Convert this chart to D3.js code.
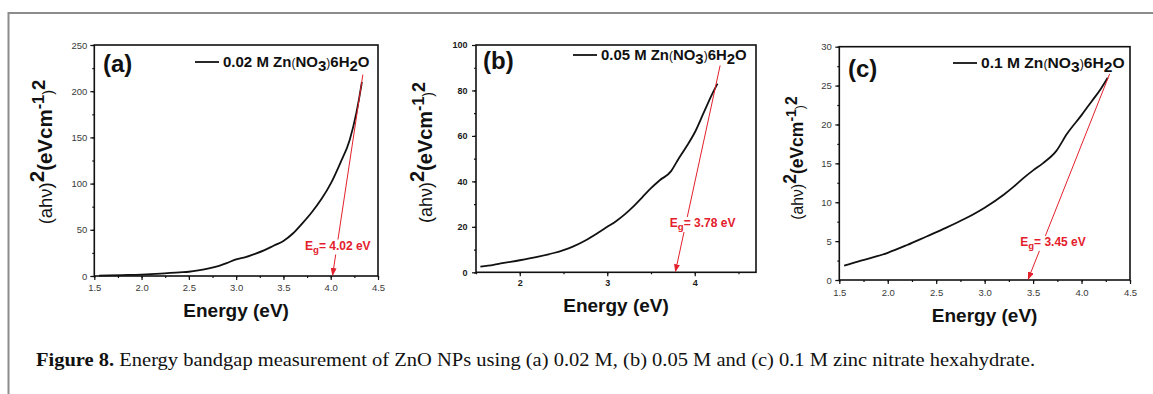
<!DOCTYPE html>
<html>
<head>
<meta charset="utf-8">
<script src="https://cdn.jsdelivr.net/npm/d3@7/dist/d3.min.js"></script>
<style>
  body { margin: 0; background: #fff; }
  svg { display: block; font-family: "Liberation Sans", Arial, sans-serif; }
</style>
</head>
<body>
<div id="chart"></div>
<script>
var width = 1153;
var height = 394;

// (a) 0.02 M
var energyA = [1.55, 1.8, 2.0, 2.2, 2.4, 2.5, 2.6, 2.7, 2.8, 2.9, 3.0, 3.1, 3.2, 3.3, 3.4, 3.5, 3.6, 3.7, 3.8, 3.9, 4.0, 4.1, 4.2, 4.27, 4.3, 4.33];
var absA    = [0.5, 1, 1.5, 2.5, 4, 4.6, 6, 8, 10.5, 14, 18, 20.5, 24, 28, 33, 38, 46, 57, 69, 83, 100, 122, 147, 176, 192, 210];
var xTicksA = [1.5, 2.0, 2.5, 3.0, 3.5, 4.0, 4.5];
var yTicksA = [0, 50, 100, 150, 200, 250];

// (b) 0.05 M
var energyB = [1.55, 1.7, 1.8, 2.0, 2.2, 2.4, 2.5, 2.6, 2.75, 2.9, 3.0, 3.1, 3.2, 3.3, 3.4, 3.5, 3.6, 3.73, 3.8, 3.9, 4.0, 4.1, 4.2, 4.26];
var absB    = [2.5, 3.3, 4, 5.3, 6.8, 8.6, 9.8, 11.2, 14, 17.5, 20, 22.5, 25.5, 29, 33, 37, 40.5, 44.5, 49, 55, 61.5, 70, 78.5, 83];
var xTicksB = [2, 3, 4];
var yTicksB = [0, 20, 40, 60, 80, 100];

// (c) 0.1 M
var energyC = [1.55, 1.7, 1.82, 2.0, 2.2, 2.4, 2.6, 2.8, 3.0, 3.2, 3.3, 3.4, 3.5, 3.6, 3.74, 3.85, 4.0, 4.1, 4.2, 4.27];
var absC    = [1.85, 2.4, 2.8, 3.5, 4.5, 5.6, 6.7, 7.9, 9.3, 11.0, 12.0, 13.1, 14.1, 15.0, 16.6, 18.8, 21.2, 22.9, 24.6, 26];
var xTicksC = [1.5, 2.0, 2.5, 3.0, 3.5, 4.0, 4.5];
var yTicksC = [0, 5, 10, 15, 20, 25, 30];

// tangent fits: [top energy, top value, band gap]
var fitA = [4.34, 218, 4.02];
var fitB = [4.29, 91, 3.78];
var fitC = [4.29, 26.5, 3.45];

var labels = ["(a)", "(b)", "(c)"];
var legendNames = ["0.02", "0.05", "0.1"];
var gaps = ["4.02", "3.78", "3.45"];

var caption = "Energy bandgap measurement of ZnO NPs using (a) 0.02 M, (b) 0.05 M and (c) 0.1 M zinc nitrate hexahydrate.";

var red = "#e3202b";

var svg = d3.select("#chart").append("svg")
  .attr("width", width)
  .attr("height", height);

svg.append("rect").attr("width", width).attr("height", height).attr("fill", "#fff");

// page frame (top + left rule)
svg.append("path")
  .attr("d", "M8.5," + height + "V13H" + width)
  .attr("fill", "none")
  .attr("stroke", "#8c8c8c")
  .attr("stroke-width", 2);

svg.append("defs").append("marker")
  .attr("id", "arrow")
  .attr("markerUnits", "userSpaceOnUse")
  .attr("markerWidth", 8).attr("markerHeight", 6)
  .attr("refX", 7).attr("refY", 3)
  .attr("orient", "auto")
  .append("path")
  .attr("d", "M0,0L8,3L0,6z")
  .attr("fill", red);

var panels = [
  {
    energy: energyA, abs: absA, fit: fitA,
    xDomain: [1.5, 4.5], yMax: 250,
    xTicks: xTicksA, yTicks: yTicksA, xMinorStep: 0.25, yMinorStep: 25,
    xFmt: d3.format(".1f"), bold: false,
    left: 94.3, right: 378, top: 45, bottom: 276,
    xPad: 4.5, yPad: 3, tickFont: 9.5,
    ylab: [52, 152, 20.5], xlabY: 317, tag: [103, 72],
    legend: [195, 62, 147], labelAt: [4.075, 33]
  },
  {
    energy: energyB, abs: absB, fit: fitB,
    xDomain: [1.5, 4.7], yMax: 100,
    xTicks: xTicksB, yTicks: yTicksB, xMinorStep: 0.5, yMinorStep: 10,
    xFmt: d3.format("d"), bold: true,
    left: 476, right: 756, top: 45, bottom: 272.3,
    xPad: 3, yPad: 4.5, tickFont: 9,
    ylab: [432, 152.5, 20], xlabY: 311.5, tag: [483, 68.5],
    legend: [573, 55, 146], labelAt: [4.09, 21.7]
  },
  {
    energy: energyC, abs: absC, fit: fitC,
    xDomain: [1.5, 4.5], yMax: 30,
    xTicks: xTicksC, yTicks: yTicksC, xMinorStep: 0.25, yMinorStep: 2.5,
    xFmt: d3.format(".1f"), bold: false,
    left: 839.3, right: 1130, top: 46.7, bottom: 280,
    xPad: 5.5, yPad: 3.5, tickFont: 9.5,
    ylab: [803, 158, 17.5], xlabY: 322, tag: [848, 77],
    legend: [953, 63, 144], labelAt: [3.705, 4.9]
  }
];

// builds tspans from segments: [text, size(em), weight, shift(em, + is down)]
function richText(sel, segs, size) {
  var prev = 0;
  segs.forEach(function(s) {
    var fs = size * s[1];
    sel.append("tspan")
      .attr("font-size", fs)
      .attr("font-weight", s[2])
      .attr("dy", (s[3] - prev) * size)
      .text(s[0]);
    prev = s[3];
  });
}

// stretch a text horizontally so it covers the given width
function fitWidth(t, x, y, w) {
  var bw = t.node().getBBox().width;
  t.attr("transform", "translate(" + x + "," + y + ") scale(" + (w / bw) + ",1)");
}

function minorTicks(domain, step) {
  var out = [];
  for (var v = domain[0]; v <= domain[1] + 1e-9; v += step) out.push(+v.toFixed(4));
  return out;
}

panels.forEach(function(p, i) {
  var g = svg.append("g");

  var x = d3.scaleLinear().domain(p.xDomain).range([p.left, p.right]);
  var y = d3.scaleLinear().domain([0, p.yMax]).range([p.bottom, p.top]);

  // minor ticks
  g.append("g")
    .attr("transform", "translate(0," + p.bottom + ")")
    .call(d3.axisBottom(x).tickValues(minorTicks(p.xDomain, p.xMinorStep)).tickSize(2).tickFormat(""));
  g.append("g")
    .attr("transform", "translate(" + p.left + ",0)")
    .call(d3.axisLeft(y).tickValues(minorTicks([0, p.yMax], p.yMinorStep)).tickSize(2).tickFormat(""));

  // major ticks
  var xa = g.append("g")
    .attr("transform", "translate(0," + p.bottom + ")")
    .call(d3.axisBottom(x).tickValues(p.xTicks).tickFormat(p.xFmt).tickSize(4).tickPadding(p.xPad));
  var ya = g.append("g")
    .attr("transform", "translate(" + p.left + ",0)")
    .call(d3.axisLeft(y).tickValues(p.yTicks).tickSize(4).tickPadding(p.yPad));

  g.selectAll(".domain").remove();
  g.selectAll(".tick line").attr("stroke", "#111").attr("stroke-width", 1.2);
  [xa, ya].forEach(function(a) {
    a.selectAll("text")
      .attr("font-family", "Liberation Sans, Arial, sans-serif")
      .attr("font-size", p.tickFont)
      .attr("font-weight", p.bold ? "bold" : "normal")
      .attr("fill", p.bold ? "#1a1a1a" : "#3a3a3a");
  });

  // plot frame
  g.append("rect")
    .attr("x", p.left).attr("y", p.top)
    .attr("width", p.right - p.left).attr("height", p.bottom - p.top)
    .attr("fill", "none").attr("stroke", "#111").attr("stroke-width", 1.6);

  // data curve
  var line = d3.line()
    .x(function(d) { return x(d[0]); })
    .y(function(d) { return y(d[1]); })
    .curve(d3.curveMonotoneX);
  g.append("path")
    .datum(d3.zip(p.energy, p.abs))
    .attr("d", line)
    .attr("fill", "none")
    .attr("stroke", "#111")
    .attr("stroke-width", 1.8);

  // tangent extrapolation arrow
  g.append("line")
    .attr("x1", x(p.fit[0])).attr("y1", y(p.fit[1]))
    .attr("x2", x(p.fit[2])).attr("y2", y(0) - 1)
    .attr("stroke", red).attr("stroke-width", 1)
    .attr("marker-end", "url(#arrow)");

  var lg = g.append("g");
  var bg = lg.append("rect").attr("fill", "#fff");
  var lt = lg.append("text")
    .attr("x", x(p.labelAt[0])).attr("y", y(p.labelAt[1]) + 4)
    .attr("text-anchor", "middle")
    .attr("fill", red)
    .attr("font-weight", "bold");
  richText(lt, [["E", 1, "bold", 0], ["g", 0.8, "bold", 0.25], ["= " + gaps[i] + " eV", 1, "bold", 0]], 12);
  var bb = lt.node().getBBox();
  bg.attr("x", bb.x - 1).attr("y", bb.y + 1).attr("width", bb.width + 2).attr("height", bb.height - 1);

  // panel tag
  g.append("text")
    .attr("x", p.tag[0]).attr("y", p.tag[1])
    .attr("font-size", 24).attr("font-weight", "bold")
    .attr("fill", "#111")
    .text(labels[i]);

  // legend
  g.append("line")
    .attr("x1", p.legend[0]).attr("x2", p.legend[0] + 24)
    .attr("y1", p.legend[1]).attr("y2", p.legend[1])
    .attr("stroke", "#111").attr("stroke-width", 1.8);
  var leg = g.append("text").attr("fill", "#111");
  richText(leg, [
    [legendNames[i] + " M Zn", 1, "bold", 0],
    ["(", 0.8, "normal", 0],
    ["NO", 1, "bold", 0],
    ["3", 1, "bold", 0.25],
    [")", 0.8, "normal", 0],
    ["6H", 1, "bold", 0],
    ["2", 1, "bold", 0.25],
    ["O", 1, "bold", 0]
  ], 15);
  fitWidth(leg, p.legend[0] + 28, p.legend[1] + 5, p.legend[2]);

  // y axis title
  var yt = g.append("text")
    .attr("transform", "translate(" + p.ylab[0] + "," + p.ylab[1] + ") rotate(-90)")
    .attr("text-anchor", "middle")
    .attr("fill", "#111")
    .attr("dy", "0.35em");
  richText(yt, [
    ["(ahν)", 0.9, "normal", 0],
    ["2", 1, "bold", -0.4],
    ["(eVcm", 1, "bold", 0],
    ["-1", 0.8, "bold", -0.4],
    [")", 0.7, "normal", 0.05],
    ["2", 0.9, "bold", -0.35]
  ], p.ylab[2]);

  // x axis title
  g.append("text")
    .attr("x", (p.left + p.right) / 2).attr("y", p.xlabY)
    .attr("text-anchor", "middle")
    .attr("font-size", 19).attr("font-weight", "bold")
    .attr("fill", "#111")
    .text("Energy (eV)");
});

// caption
var cap = svg.append("text")
  .attr("font-family", "Liberation Serif, Times New Roman, serif")
  .attr("font-size", 19)
  .attr("fill", "#111");
cap.append("tspan").attr("font-weight", "bold").text("Figure 8.");
cap.append("tspan").text(" " + caption);
fitWidth(cap, 36, 366, 1000);
</script>
</body>
</html>
